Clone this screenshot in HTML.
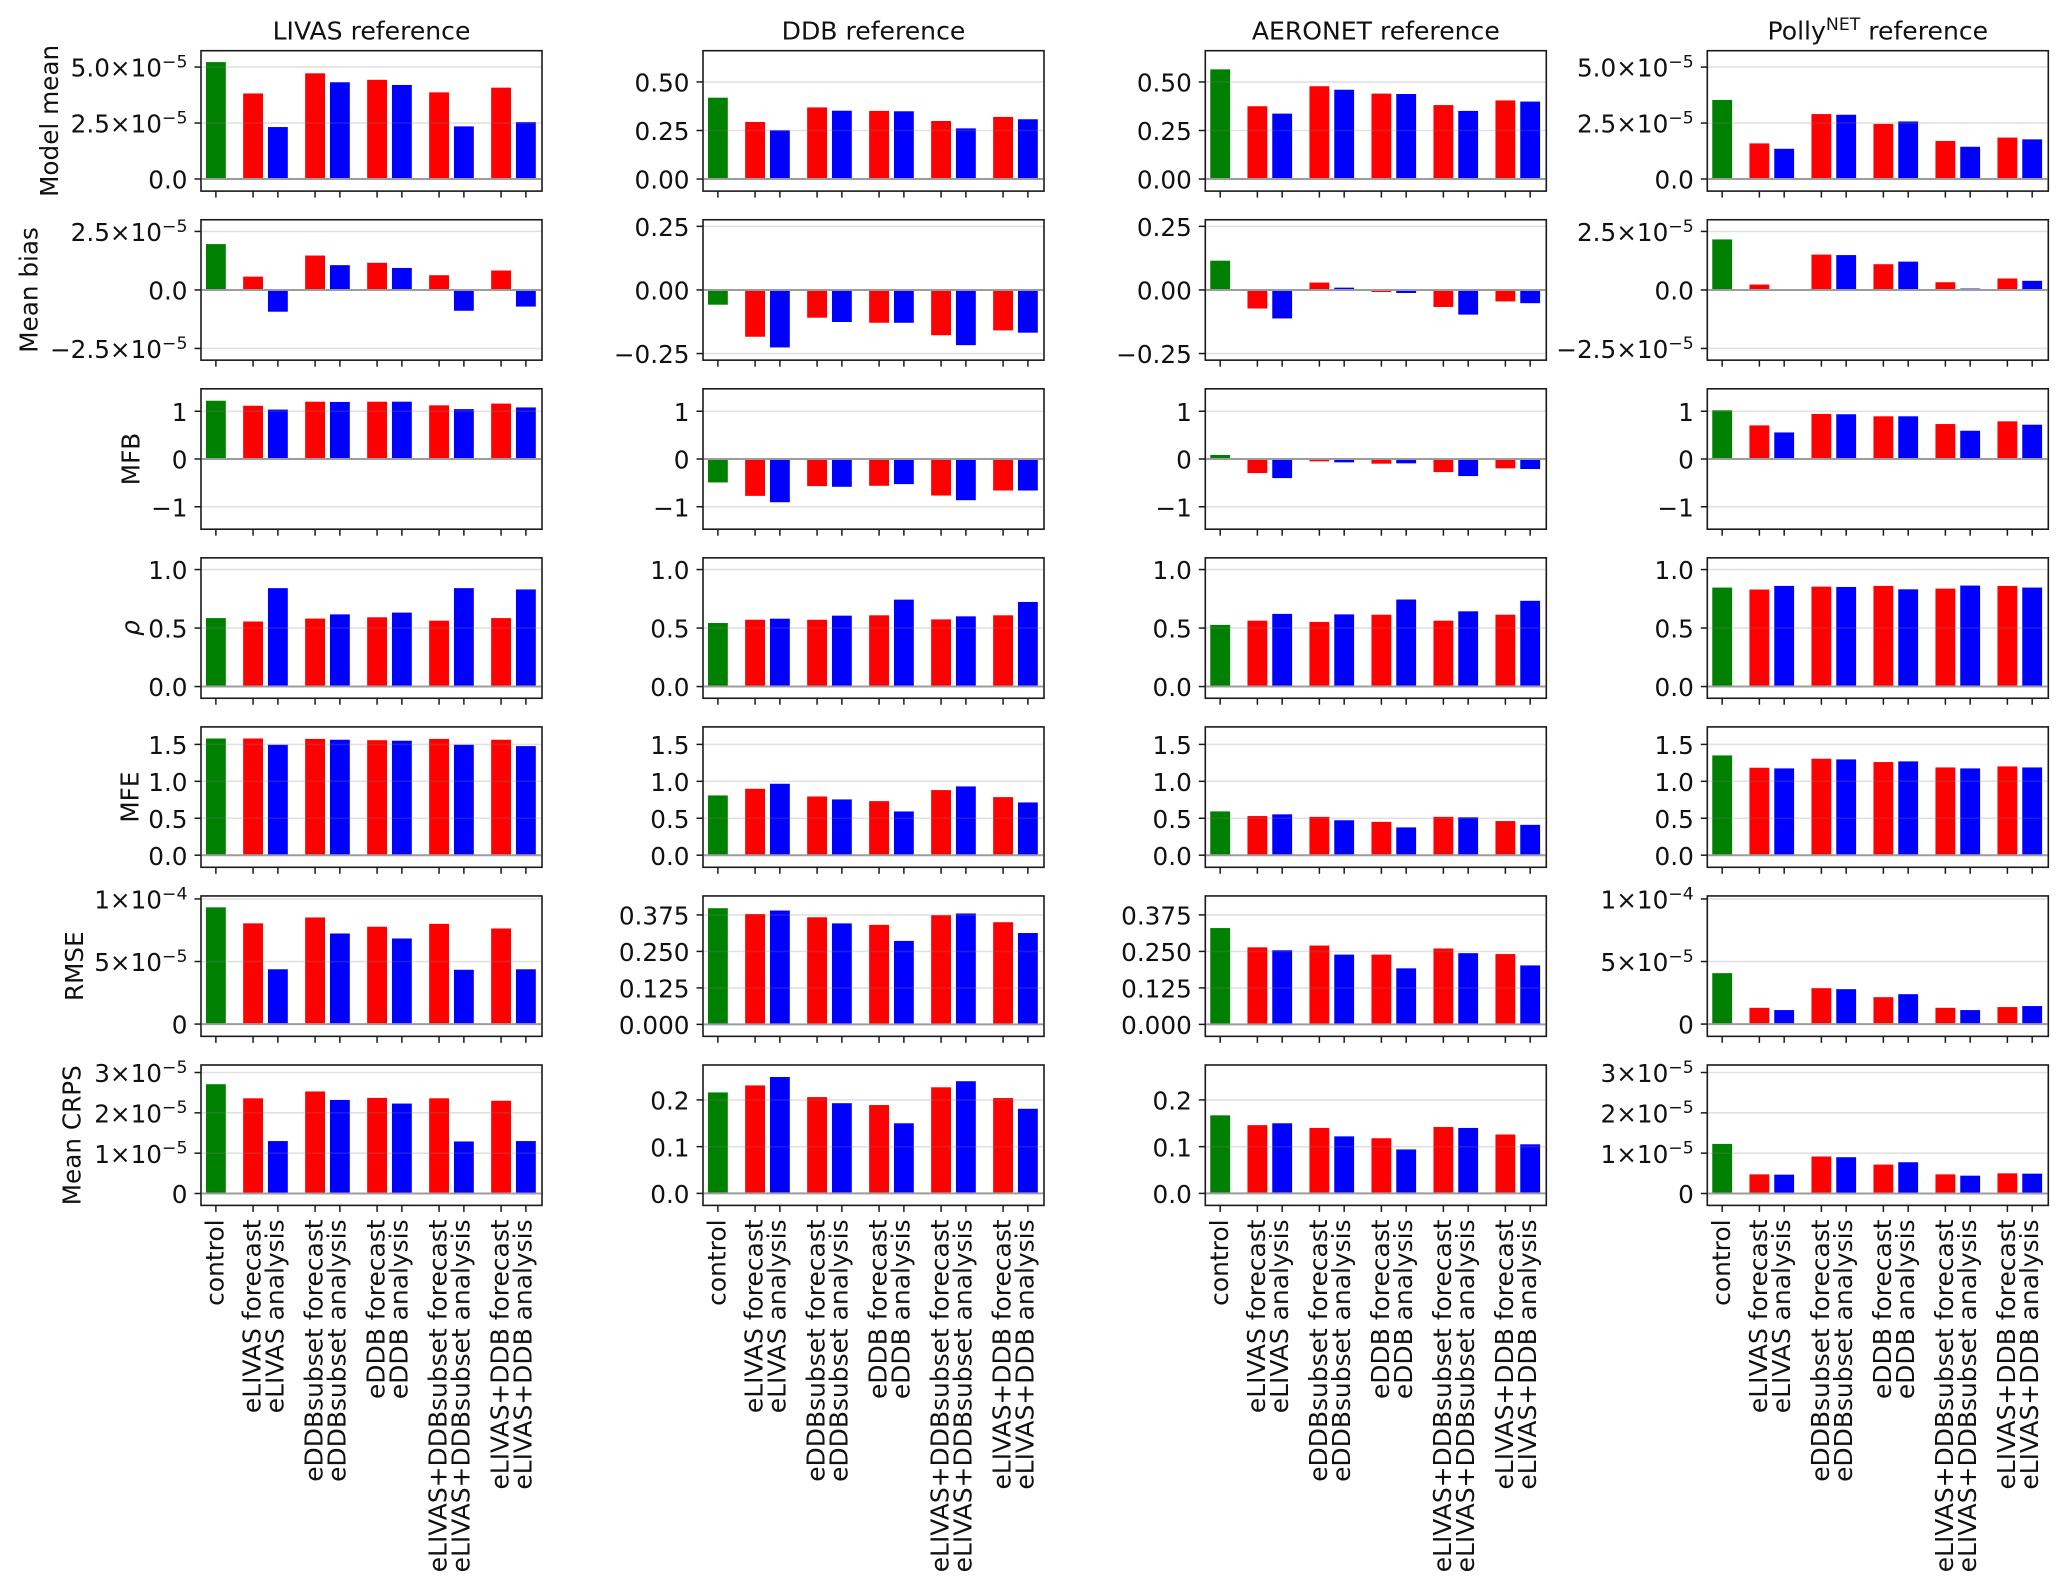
<!DOCTYPE html>
<html lang="en">
<head>
<meta charset="utf-8">
<title>Model verification bar charts</title>
<style>
  html, body { margin: 0; padding: 0; background: #ffffff; }
  #figure { display: block; width: 2067px; height: 1589px; }
  text { font-family: "DejaVu Sans", "Liberation Sans", sans-serif; fill: #111; }
</style>
</head>
<body>
<svg id="figure" xmlns="http://www.w3.org/2000/svg" width="2067" height="1589" viewBox="0 0 2067 1589"></svg>
<script>
// ---------- chart data ----------
const categories = ['control','eLIVAS forecast','eLIVAS analysis','eDDBsubset forecast','eDDBsubset analysis','eDDB forecast','eDDB analysis','eLIVAS+DDBsubset forecast','eLIVAS+DDBsubset analysis','eLIVAS+DDB forecast','eLIVAS+DDB analysis'];

// Model mean
const meanLivas   = [5.22e-5,3.82e-5,2.32e-5,4.72e-5,4.32e-5,4.43e-5,4.20e-5,3.87e-5,2.35e-5,4.08e-5,2.54e-5];
const meanDdb     = [0.419,0.294,0.251,0.369,0.352,0.351,0.349,0.299,0.261,0.320,0.308];
const meanAeronet = [0.565,0.375,0.337,0.478,0.460,0.440,0.438,0.381,0.351,0.405,0.399];
const meanPolly   = [3.53e-5,1.59e-5,1.35e-5,2.90e-5,2.87e-5,2.46e-5,2.57e-5,1.70e-5,1.44e-5,1.85e-5,1.77e-5];

// Mean bias
const biasLivas   = [1.96e-5,0.57e-5,-0.93e-5,1.47e-5,1.06e-5,1.16e-5,0.94e-5,0.63e-5,-0.89e-5,0.83e-5,-0.71e-5];
const biasDdb     = [-0.058,-0.184,-0.226,-0.109,-0.126,-0.129,-0.129,-0.178,-0.217,-0.159,-0.168];
const biasAeronet = [0.115,-0.073,-0.112,0.029,0.009,-0.008,-0.012,-0.067,-0.097,-0.045,-0.052];
const biasPolly   = [2.16e-5,0.23e-5,-0.03e-5,1.51e-5,1.49e-5,1.10e-5,1.21e-5,0.33e-5,0.06e-5,0.49e-5,0.39e-5];

// MFB
const mfbLivas   = [1.22,1.115,1.035,1.20,1.195,1.20,1.20,1.124,1.044,1.16,1.08];
const mfbDdb     = [-0.491,-0.772,-0.905,-0.568,-0.582,-0.561,-0.526,-0.765,-0.863,-0.66,-0.66];
const mfbAeronet = [0.084,-0.295,-0.40,-0.049,-0.07,-0.098,-0.091,-0.274,-0.358,-0.196,-0.21];
const mfbPolly   = [1.02,0.704,0.556,0.944,0.937,0.894,0.894,0.732,0.592,0.789,0.718];

// rho
const rhoLivas   = [0.585,0.556,0.841,0.581,0.617,0.592,0.632,0.563,0.841,0.585,0.83];
const rhoDdb     = [0.543,0.571,0.58,0.571,0.606,0.609,0.743,0.574,0.60,0.609,0.723];
const rhoAeronet = [0.527,0.563,0.621,0.552,0.617,0.614,0.744,0.563,0.643,0.614,0.733];
const rhoPolly   = [0.846,0.829,0.86,0.854,0.851,0.86,0.831,0.837,0.863,0.86,0.846];

// MFE
const mfeLivas   = [1.58,1.58,1.495,1.574,1.563,1.557,1.55,1.574,1.495,1.563,1.477];
const mfeDdb     = [0.809,0.899,0.967,0.795,0.755,0.732,0.592,0.881,0.931,0.786,0.714];
const mfeAeronet = [0.593,0.53,0.553,0.519,0.473,0.451,0.376,0.519,0.513,0.462,0.411];
const mfePolly   = [1.351,1.184,1.175,1.306,1.297,1.261,1.27,1.188,1.175,1.202,1.188];

// RMSE
const rmseLivas   = [9.33e-5,8.05e-5,4.38e-5,8.52e-5,7.24e-5,7.78e-5,6.84e-5,8.01e-5,4.34e-5,7.64e-5,4.38e-5];
const rmseDdb     = [0.398,0.378,0.39,0.367,0.346,0.341,0.286,0.374,0.38,0.35,0.313];
const rmseAeronet = [0.33,0.264,0.254,0.27,0.239,0.239,0.192,0.26,0.244,0.241,0.202];
const rmsePolly   = [4.07e-5,1.30e-5,1.12e-5,2.87e-5,2.79e-5,2.15e-5,2.39e-5,1.30e-5,1.12e-5,1.36e-5,1.44e-5];

// Mean CRPS
const crpsLivas   = [2.71e-5,2.36e-5,1.30e-5,2.53e-5,2.32e-5,2.37e-5,2.23e-5,2.36e-5,1.29e-5,2.30e-5,1.30e-5];
const crpsDdb     = [0.216,0.231,0.249,0.206,0.193,0.189,0.15,0.227,0.24,0.204,0.181];
const crpsAeronet = [0.167,0.146,0.15,0.14,0.122,0.118,0.094,0.142,0.14,0.126,0.105];
const crpsPolly   = [1.23e-5,0.475e-5,0.467e-5,0.917e-5,0.90e-5,0.717e-5,0.775e-5,0.475e-5,0.442e-5,0.50e-5,0.492e-5];

// tick labels
const ticksMeanSci  = ['0.0','2.5e-5','5.0e-5'];
const ticksMeanUnit = ['0.00','0.25','0.50'];
const ticksBiasSci  = ['-2.5e-5','0.0','2.5e-5'];
const ticksBiasUnit = ['-0.25','0.00','0.25'];
const ticksMfb      = ['-1','0','1'];
const ticksRho      = ['0.0','0.5','1.0'];
const ticksMfe      = ['0.0','0.5','1.0','1.5'];
const ticksRmseSci  = ['0','5e-5','1e-4'];
const ticksRmseUnit = ['0.000','0.125','0.250','0.375'];
const ticksCrpsSci  = ['0','1e-5','2e-5','3e-5'];
const ticksCrpsUnit = ['0.0','0.1','0.2'];

// axis ranges
const rangeMeanSci  = [-0.54e-5,5.73e-5];
const rangeMeanUnit = [-0.062,0.661];
const rangeBiasSci  = [-3.0e-5,3.0e-5];
const rangeBiasUnit = [-0.276,0.276];
const rangeMfb      = [-1.47,1.47];
const rangeRho      = [-0.1,1.1];
const rangeMfe      = [-0.164,1.737];
const rangeRmseSci  = [-0.098e-4,1.024e-4];
const rangeRmseUnit = [-0.041,0.44];
const rangeCrpsSci  = [-0.295e-5,3.186e-5];
const rangeCrpsUnit = [-0.0257,0.2747];

const columnTitles = [['LIVAS reference','',''],['DDB reference','',''],['AERONET reference','',''],['Polly','NET',' reference']];
const rowLabels = ['Model mean','Mean bias','MFB','\u03C1','MFE','RMSE','Mean CRPS'];

const rowSeries = [
  [meanLivas,meanDdb,meanAeronet,meanPolly],
  [biasLivas,biasDdb,biasAeronet,biasPolly],
  [mfbLivas,mfbDdb,mfbAeronet,mfbPolly],
  [rhoLivas,rhoDdb,rhoAeronet,rhoPolly],
  [mfeLivas,mfeDdb,mfeAeronet,mfePolly],
  [rmseLivas,rmseDdb,rmseAeronet,rmsePolly],
  [crpsLivas,crpsDdb,crpsAeronet,crpsPolly]
];
const rowTicks = [
  [ticksMeanSci,ticksMeanUnit],[ticksBiasSci,ticksBiasUnit],[ticksMfb,ticksMfb],[ticksRho,ticksRho],
  [ticksMfe,ticksMfe],[ticksRmseSci,ticksRmseUnit],[ticksCrpsSci,ticksCrpsUnit]
];
const rowRanges = [
  [rangeMeanSci,rangeMeanUnit],[rangeBiasSci,rangeBiasUnit],[rangeMfb,rangeMfb],[rangeRho,rangeRho],
  [rangeMfe,rangeMfe],[rangeRmseSci,rangeRmseUnit],[rangeCrpsSci,rangeCrpsUnit]
];

// ---------- layout ----------
const svg = document.getElementById('figure');
const NS = 'http://www.w3.org/2000/svg';
const FONT = 24.7, TITLE_FONT = 25.1, XLABEL_FONT = 24.95, SUP = 17.3;
const AX_W = 341, AX_H = 140.4, ROW_STEP = 169.05, TOP0 = 50.7;
const COL_LEFT = [201, 703, 1205.3, 1707.3];
const YLABEL_X = [57.8, 37.5, 139.5, 139, 138.5, 83, 80.7];
const X_MIN = -0.6, X_MAX = 13.15, BAR_W = 0.8;
const INK = '#1a1a1a';

function make(tag, attrs, parent) {
  const n = document.createElementNS(NS, tag);
  for (const k in attrs) n.setAttribute(k, attrs[k]);
  parent.appendChild(n);
  return n;
}
function slug(s) { return s.toLowerCase().replace(/[^a-z0-9]+/g, '-').replace(/^-|-$/g, ''); }
function xPosition(i) { return i === 0 ? 0 : 1.5 + 2.5 * Math.floor((i - 1) / 2) + (i - 1) % 2; }
function xScale(col, v) { return COL_LEFT[col] + (v - X_MIN) / (X_MAX - X_MIN) * AX_W; }
function rowTop(row) { return TOP0 + row * ROW_STEP; }
function yScale(row, range, v) { return rowTop(row) + AX_H - (v - range[0]) / (range[1] - range[0]) * AX_H; }
function barColor(i) { return i === 0 ? '#008000' : (i % 2 === 1 ? '#ff0000' : '#0000ff'); }

function writeTick(textEl, label) {
  const parts = label.split('e');
  const mant = parts[0].replace('-', '\u2212');
  if (parts.length === 1) { textEl.textContent = mant; return; }
  textEl.textContent = mant + '\u00D710';
  const sup = make('tspan', { 'font-size': SUP, dy: -9.3 }, textEl);
  sup.textContent = parts[1].replace('-', '\u2212').replace(/^(\u2212?)0+/, '$1');
}

// column titles
columnTitles.forEach(function (t, c) {
  const title = make('text', { x: COL_LEFT[c] + AX_W / 2, y: 39.3, 'font-size': TITLE_FONT, 'text-anchor': 'middle' }, svg);
  
  
  title.appendChild(document.createTextNode(t[0]));
  if (t[1]) {
    const s = make('tspan', { 'font-size': SUP, dy: -9.5 }, title);
    s.textContent = t[1];
    const r = make('tspan', { dy: 9.5 }, title);
    r.textContent = t[2];
  }
});

// row labels
rowLabels.forEach(function (label, r) {
  const cy = rowTop(r) + AX_H / 2;
  const t = make('text', { x: YLABEL_X[r], y: cy, 'font-size': FONT, 'text-anchor': 'middle', transform: 'rotate(-90 ' + YLABEL_X[r] + ' ' + cy + ')' }, svg);
  if (r === 3) t.setAttribute('font-style', 'italic');
  
  
  t.textContent = label;
});

// panels
rowSeries.forEach(function (seriesRow, r) {
  seriesRow.forEach(function (values, c) {
    const kind = (c === 0 || c === 3) ? 0 : 1;
    const range = rowRanges[r][kind];
    const ticks = rowTicks[r][kind];
    const left = COL_LEFT[c], top = rowTop(r);
    const panel = make('g', {}, svg);
    
    

    // bars
    values.forEach(function (v, i) {
      const cx = xScale(c, xPosition(i));
      const y0 = yScale(r, range, 0), y1 = yScale(r, range, v);
      const w = xScale(c, BAR_W) - xScale(c, 0);
      const bar = make('rect', { x: cx - w / 2, y: Math.min(y0, y1), width: w, height: Math.abs(y1 - y0), fill: barColor(i) }, panel);
      
      
    });

    // grid and y ticks
    ticks.forEach(function (label) {
      const v = parseFloat(label);
      const y = yScale(r, range, v);
      const grid = make('line', { x1: left + 1, x2: left + AX_W - 1, y1: y, y2: y, stroke: v === 0 ? '#9c9c9c' : 'rgba(128,128,128,0.24)', 'stroke-width': v === 0 ? 2 : 1.6 }, panel);
      
      
      const tick = make('line', { x1: left - 6.5, x2: left, y1: y, y2: y, stroke: INK, 'stroke-width': 1.5 }, panel);
      
      
      const lab = make('text', { x: left - 13.5, y: y + 9.6, 'font-size': FONT, 'text-anchor': 'end' }, panel);
      
      
      writeTick(lab, label);
    });

    // x ticks
    categories.forEach(function (name, i) {
      const x = xScale(c, xPosition(i));
      const tick = make('line', { x1: x, x2: x, y1: top + AX_H, y2: top + AX_H + 6.5, stroke: INK, 'stroke-width': 1.5 }, panel);
      
      
      if (r === rowSeries.length - 1) {
        const bx = x + (/y/.test(name) ? 5.6 : 7.6);
        const by = top + AX_H + 14;
        const lab = make('text', { x: bx, y: by, 'font-size': XLABEL_FONT, 'text-anchor': 'end', transform: 'rotate(-90 ' + bx + ' ' + by + ')' }, panel);
        
        
        lab.textContent = name;
      }
    });

    // frame
    const frame = make('rect', { x: left, y: top, width: AX_W, height: AX_H, fill: 'none', stroke: INK, 'stroke-width': 1.6 }, panel);
    
    
  });
});
</script>
</body>
</html>
